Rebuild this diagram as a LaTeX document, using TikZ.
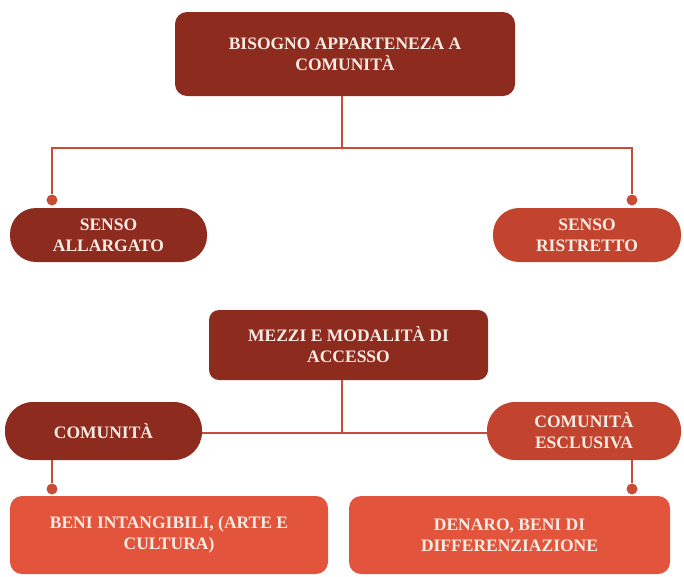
\documentclass[tikz,border=0pt]{standalone}
\usepackage{fontspec}
\setmainfont{Liberation Serif}
\definecolor{darkred}{HTML}{8E2B1F}
\definecolor{midred}{HTML}{C2442F}
\definecolor{lightred}{HTML}{E2553C}
\definecolor{linered}{HTML}{C94D36}
\definecolor{labeltext}{HTML}{F7ECE4}
\begin{document}
\begin{tikzpicture}[x=1pt,y=-1pt,
  box/.style={draw=none, align=center, text=labeltext,
    font=\fontsize{17.5}{21}\selectfont\bfseries, inner sep=0pt},
  bigbox/.style={box, rounded corners=12pt},
  pill/.style={box, rounded corners=26pt},
  link/.style={draw=linered, line width=1.8pt},
  dot/.style={circle, fill=linered, inner sep=0pt, minimum size=11pt}]
\useasboundingbox (0,0) rectangle (684,576);

% upper block
\node[bigbox, fill=darkred, minimum width=340pt, minimum height=84pt]
  (top) at (345,54) {BISOGNO APPARTENEZA A\\COMUNITÀ};
\node[pill, fill=darkred, minimum width=197pt, minimum height=54pt]
  (sensoA) at (108.5,235) {SENSO\\ALLARGATO};
\node[pill, fill=midred, minimum width=188pt, minimum height=54pt]
  (sensoR) at (587,235) {SENSO\\RISTRETTO};
\coordinate (hub) at (342,148);
\node[dot] (d1) at (52,200) {};
\node[dot] (d2) at (632,200) {};
\draw[link] (top.south -| hub) -- (hub);
\draw[link] (hub) -| (d1);
\draw[link] (hub) -| (d2);

% lower block
\node[bigbox, fill=darkred, minimum width=279pt, minimum height=70pt, rounded corners=10pt]
  (mezzi) at (348.5,345) {MEZZI E MODALITÀ DI\\ACCESSO};
\node[pill, fill=darkred, minimum width=197pt, minimum height=58pt, rounded corners=28pt]
  (comA) at (103.5,431) {COMUNITÀ};
\node[pill, fill=midred, minimum width=194pt, minimum height=58pt, rounded corners=28pt]
  (comE) at (584,431) {COMUNITÀ\\ESCLUSIVA};
\coordinate (hub2) at (342,433);
\draw[link] (mezzi.south -| hub2) -- (hub2);
\draw[link] (comA.east |- hub2) -- (comE.west |- hub2);

\node[bigbox, fill=lightred, minimum width=318pt, minimum height=78pt]
  (beni) at (169,535) {BENI INTANGIBILI, (ARTE E\\CULTURA)};
\node[bigbox, fill=lightred, minimum width=321pt, minimum height=78pt]
  (denaro) at (509.5,535) {DENARO, BENI DI\\DIFFERENZIAZIONE};
\node[dot] (d3) at (52,489) {};
\node[dot] (d4) at (632,489) {};
\draw[link] (comA.south -| d3) -- (d3);
\draw[link] (comE.south -| d4) -- (d4);
\end{tikzpicture}
\end{document}
